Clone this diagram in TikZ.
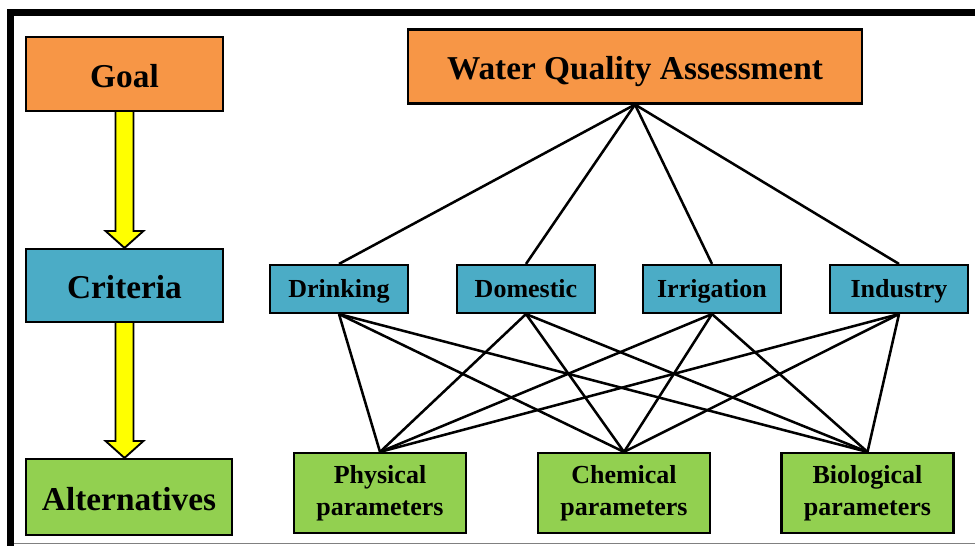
\documentclass[tikz,border=0pt]{standalone}
\usepackage{fontspec}
\setmainfont{Liberation Serif}
\usetikzlibrary{calc}
\definecolor{goalorange}{RGB}{247,150,70}
\definecolor{critblue}{RGB}{75,172,198}
\definecolor{altgreen}{RGB}{146,208,80}
\definecolor{arrowyellow}{RGB}{255,255,0}

\begin{document}
\begin{tikzpicture}[x=0.75pt,y=-0.75pt,
    box/.style={draw=black, line width=1.6pt, inner sep=0pt, align=center, font=\bfseries},
    bigbox/.style={box, font=\fontsize{25}{30}\selectfont\bfseries, text height=24pt, text depth=4pt},
    smallbox/.style={box, font=\fontsize{19.5}{24}\selectfont\bfseries},
    critbox/.style={smallbox, fill=critblue, minimum width=0.75*138pt, minimum height=0.75*48pt,
        text height=16pt, text depth=4pt},
    altbox/.style={smallbox, fill=altgreen, minimum width=0.75*172pt, minimum height=0.75*80pt},
    link/.style={line width=1.9pt, black},
    blockarrow/.style={draw=black, line width=1.4pt, fill=arrowyellow, line join=miter}]
    \useasboundingbox (0,0) rectangle (975,546);

    % Frame
    \draw[black, line width=5.25pt] (7,12.5) -- (975,12.5);
    \draw[black, line width=5.25pt] (10.5,9) -- (10.5,546);
    \draw[gray, line width=1.2pt] (14,543.5) -- (975,543.5);

    % Levels on the left
    \node[bigbox, fill=goalorange, minimum width=0.75*197pt, minimum height=0.75*74pt] (goal) at (124.5,74) {Goal};
    \node[bigbox, fill=critblue, minimum width=0.75*197pt, minimum height=0.75*73pt] (crit) at (124.5,285.5) {Criteria};
    \node[bigbox, fill=altgreen, minimum width=0.75*206pt, minimum height=0.75*76pt] (alt) at (129,497) {Alternatives};

    % Yellow arrows
    \draw[blockarrow] ($(goal.south)+(-9,0)$) -- ($(crit.north)+(-9,-17)$) -- ($(crit.north)+(-19,-17)$)
        -- (crit.north) -- ($(crit.north)+(19,-17)$) -- ($(crit.north)+(9,-17)$) -- ($(goal.south)+(9,0)$);
    \draw[blockarrow] ($(crit.south)+(-9,0)$) -- ($(alt.north -| crit.south)+(-9,-17)$) -- ($(alt.north -| crit.south)+(-19,-17)$)
        -- (alt.north -| crit.south) -- ($(alt.north -| crit.south)+(19,-17)$) -- ($(alt.north -| crit.south)+(9,-17)$) -- ($(crit.south)+(9,0)$);

    % Goal
    \node[bigbox, fill=goalorange, minimum width=0.75*454pt, minimum height=0.75*74pt] (wqa) at (635,66.5) {Water Quality Assessment};

    % Criteria
    \node[critbox] (drink) at (339,289) {Drinking};
    \node[critbox] (dom) at (526,289) {Domestic};
    \node[critbox] (irr) at (712,289) {Irrigation};
    \node[critbox] (ind) at (899,289) {Industry};

    % Alternatives
    \node[altbox] (phys) at (380,493) {Physical\\parameters};
    \node[altbox] (chem) at (624,493) {Chemical\\parameters};
    \node[altbox] (bio) at (867.5,493) {Biological\\parameters};

    % Links
    \foreach \c in {drink,dom,irr,ind} {
        \draw[link] (wqa.south) -- (\c.north);
        \foreach \a in {phys,chem,bio}
            \draw[link] (\c.south) -- (\a.north);
    }
\end{tikzpicture}
\end{document}
